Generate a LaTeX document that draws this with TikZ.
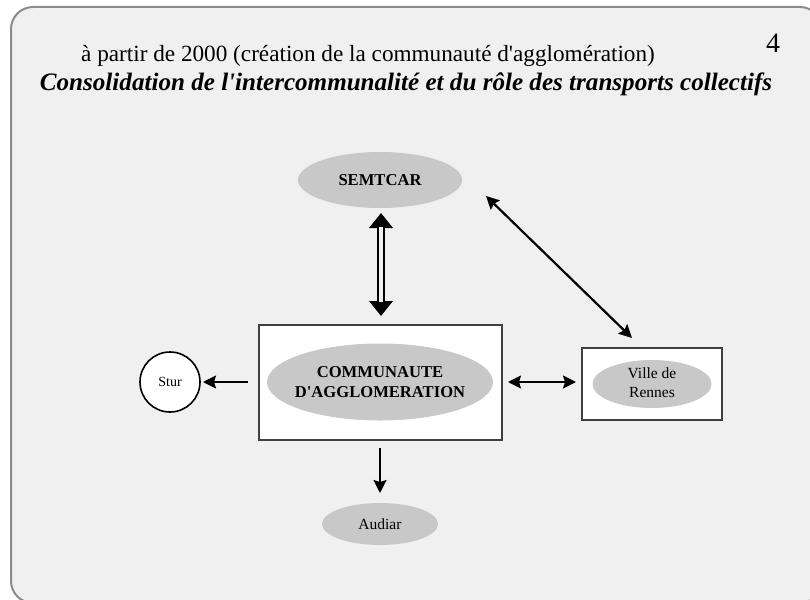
\documentclass[tikz,border=0pt]{standalone}
\usepackage{fontspec}
\setmainfont{Liberation Serif}[Ligatures=TeXOff]
\usetikzlibrary{shapes.geometric,arrows.meta}
\definecolor{bgin}{HTML}{F0F0F0}
\definecolor{ellgray}{HTML}{C8C8C8}
\definecolor{framegray}{HTML}{8C8C8C}
\definecolor{boxline}{HTML}{404040}
\tikzset{
  ell/.style={shape=ellipse, fill=ellgray, draw=none, inner sep=0pt},
  boxr/.style={shape=rectangle, fill=white, draw=boxline, line width=1.6pt, inner sep=0pt},
  conn/.style={draw=black, line width=2.2pt},
  bigtxt/.style={font=\fontsize{16.6}{19.5}\selectfont\bfseries, align=center},
  smalltxt/.style={font=\fontsize{15.5}{19}\selectfont, align=center},
  tipx/.tip={Stealth[length=13pt,width=13pt,inset=2pt]},
}
\begin{document}
\begin{tikzpicture}[x=1pt,y=-1pt]
\useasboundingbox (0,0) rectangle (810,599);
\clip (0,0) rectangle (810,599);
\fill[white] (0,0) rectangle (810,599);
\draw[framegray, line width=2pt, fill=bgin, rounded corners=22pt] (11,7) rectangle (822,603);
% titles
\node[font=\fontsize{23.2}{26}\selectfont, inner sep=0pt] (t1) at (368,56) {à partir de 2000 (création de la communauté d'agglomération)};
\node[font=\fontsize{28}{30}\selectfont, inner sep=0pt] (num) at (773,43) {4};
\node[font=\fontsize{25.1}{28}\selectfont\bfseries\itshape, inner sep=0pt] (t2) at (406,84) {Consolidation de l'intercommunalité et du rôle des transports collectifs};
% SEMTCAR
\node[ell, minimum width=164pt, minimum height=56pt] (sem) at (380,180) {};
\node[bigtxt] (semt) at (380,180) {SEMTCAR};
% main box
\node[boxr, minimum width=243pt, minimum height=115pt] (box) at (380.5,382.5) {};
\node[ell, minimum width=226pt, minimum height=77pt] (ca) at (380,382) {};
\node[bigtxt] (cat) at (380,382) {COMMUNAUTE\\D'AGGLOMERATION};
% Stur
\node[circle, draw=black, fill=white, line width=1.6pt, minimum size=60pt, inner sep=0pt, font=\fontsize{14}{16}\selectfont] (stur) at (170,382) {Stur};
% Ville de Rennes
\node[boxr, minimum width=140pt, minimum height=72pt] (vbox) at (652,384) {};
\node[ell, minimum width=119pt, minimum height=48pt] (ville) at (652,384) {};
\node[smalltxt] (villet) at (652,383) {Ville de\\Rennes};
% Audiar
\node[ell, minimum width=116pt, minimum height=42pt] (aud) at (380,524) {};
\node[smalltxt] (audt) at (380,524) {Audiar};
% coordinates for connectors
\coordinate (dTop) at (381,213);
\coordinate (dBot) at (381,316);
\coordinate (sA) at (248,382);
\coordinate (sB) at (203,382);
\coordinate (hA) at (508,382);
\coordinate (hB) at (576,382);
\coordinate (gA) at (486,196);
\coordinate (gB) at (632,338);
\coordinate (aA) at (380,448);
\coordinate (aB) at (380,493);
% double arrow SEMTCAR <-> box
\draw[line width=8pt, {Triangle[length=15pt,width=23pt]}-{Triangle[length=15pt,width=23pt]}] (dTop) -- (dBot);
\draw[line width=3.2pt, draw=bgin, shorten <=14pt, shorten >=14pt] (dTop) -- (dBot);
% other arrows
\draw[conn, -{tipx}] (sA) -- (sB);
\draw[conn, {tipx}-{tipx}] (hA) -- (hB);
\draw[conn, {tipx}-{tipx}] (gA) -- (gB);
\draw[conn, -{tipx}] (aA) -- (aB);
\end{tikzpicture}
\end{document}
